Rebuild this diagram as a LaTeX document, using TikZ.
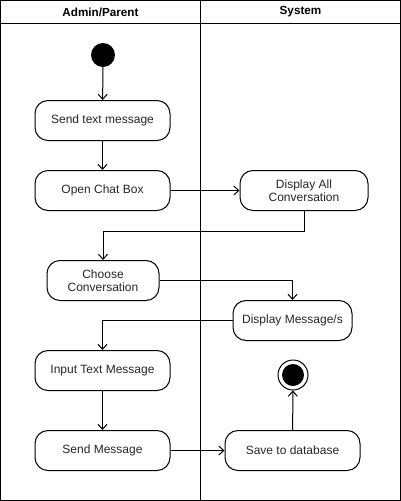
\documentclass[tikz,border=0pt]{standalone}
\usepackage{fontspec}
\setmainfont{Liberation Sans}
\usetikzlibrary{arrows.meta}
\begin{document}
\begin{tikzpicture}[x=1pt,y=-1pt,
  act/.style={draw,line width=1pt,rounded corners=13pt,minimum height=40pt,align=center,font=\fontsize{12}{13.5}\selectfont,text=black!85,inner sep=2pt},
  arr/.style={draw,line width=1pt,-{Straight Barb[length=5pt,width=9pt,line width=1pt]}},
  lane/.style={draw,line width=1pt},
  hdr/.style={font=\fontsize{11.7}{13}\selectfont\bfseries}
]
\useasboundingbox (0,0) rectangle (401,501);
\draw[lane] (0.5,0.5) rectangle (400.5,500.5);
\draw[lane] (0.5,23) -- (400.5,23);
\draw[lane] (200.5,0.5) -- (200.5,500.5);
\node[hdr] (h1) at (100.5,12) {Admin/Parent};
\node[hdr] (h2) at (300.5,12) {System};

\node[circle,fill=black,minimum size=24pt,inner sep=0pt] (start) at (103,55) {};
\node[act,minimum width=135pt] (send) at (102.5,120.5) {Send text message};
\node[act,minimum width=135pt] (open) at (102.5,190.5) {Open Chat Box};
\node[act,minimum width=128pt] (dispall) at (304,190.5) {Display All\\Conversation};
\node[act,minimum width=112pt] (choose) at (103,280.5) {Choose\\Conversation};
\node[act,minimum width=119pt] (dispmsg) at (292.5,320.5) {Display Message/s};
\node[act,minimum width=135pt] (input) at (102.5,370.5) {Input Text Message};
\node[act,minimum width=135pt] (sendmsg) at (102.5,450.5) {Send Message};
\node[act,minimum width=135pt] (save) at (292.5,450.5) {Save to database};
\node[circle,draw,line width=1pt,fill=white,minimum size=30pt,inner sep=0pt] (end) at (293,375) {};
\node[circle,fill=black,minimum size=22pt,inner sep=0pt] (endin) at (end.center) {};

\draw[arr] (start) -- (send);
\draw[arr] (send) -- (open);
\draw[arr] (open) -- (dispall);
\draw[arr] (dispall.south) -- ++(0,20) -| (choose.north);
\draw[arr] (choose.east) -| (dispmsg.north);
\draw[arr] (dispmsg.west) -| (input.north);
\draw[arr] (input) -- (sendmsg);
\draw[arr] (sendmsg) -- (save);
\draw[arr] (save) -- (end);
\end{tikzpicture}
\end{document}
